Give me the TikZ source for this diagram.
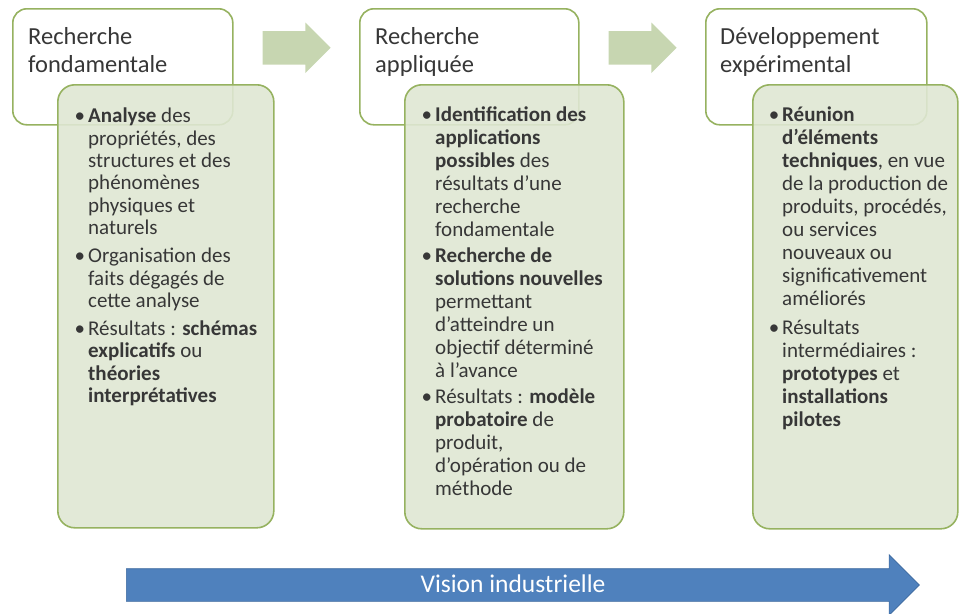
\documentclass[tikz,border=0pt]{standalone}
\usepackage{fontspec}
\setmainfont{Carlito}
\usetikzlibrary{calc,positioning,shapes.arrows}
\definecolor{vertbord}{RGB}{150,178,96}
\definecolor{vertfond}{RGB}{223,231,211}
\definecolor{vertfleche}{RGB}{199,214,177}
\definecolor{bleufleche}{RGB}{79,129,189}
\definecolor{bleubord}{RGB}{60,104,158}
\definecolor{texte}{RGB}{55,55,55}
\newcommand\puce{\llap{\textbullet\hspace{3pt}}}
\tikzset{
  titrebox/.style={draw=vertbord, line width=1.6pt, fill=white, rounded corners=14pt, anchor=north west, inner sep=0pt},
  corpsbox/.style={draw=vertbord, line width=1.6pt, fill=vertfond, fill opacity=0.9, rounded corners=17pt, anchor=north west, inner sep=0pt},
  titre/.style={anchor=north west, inner sep=0pt, align=left, text=texte, font=\fontsize{24.5}{28}\selectfont},
  corps/.style={anchor=north west, inner sep=0pt, align=left, text=texte, font=\fontsize{21}{23}\selectfont},
  flechevert/.style={single arrow, fill=vertfleche, minimum height=68pt, text height=16.5pt, text depth=16.5pt, text width=0pt, single arrow head extend=8.5pt, single arrow tip angle=90, inner sep=0pt},
  flechebleu/.style={single arrow, draw=bleubord, line width=0.6pt, fill=bleufleche, minimum height=793pt, text height=16pt, text depth=16pt, text width=0pt, single arrow head extend=14pt, single arrow tip angle=90, inner sep=0pt, anchor=west}
}
\begin{document}
\begin{tikzpicture}[x=1pt,y=-1pt]
\useasboundingbox (0,0) rectangle (960,613);

% cadres de titre
\node[titrebox, minimum width=220pt, minimum height=116pt] (rf) at (12,8) {};
\node[titrebox, minimum width=219pt, minimum height=116pt] (ra) at (359,8) {};
\node[titrebox, minimum width=221pt, minimum height=116pt] (de) at (705,8) {};

\node[titre] (trf) at (28,27) {Recherche\\fondamentale};
\node[titre] (tra) at (375,27) {Recherche\\appliquée};
\node[titre] (tde) at (720,27) {Développement\\expérimental};

% cadres verts
\node[corpsbox, minimum width=216pt, minimum height=443pt] (cf) at (57,84) {};
\node[corpsbox, minimum width=219pt, minimum height=444pt] (ca) at (404,84) {};
\node[corpsbox, minimum width=205pt, minimum height=444pt] (cd) at (752,84) {};

\node[corps, font=\fontsize{21}{22.3}\selectfont] (tcf) at (88,108) {%
\puce\textbf{Analyse} des\\ propriétés, des\\ structures et des\\ phénomènes\\ physiques et\\ naturels\\[6pt]
\puce Organisation des\\ faits dégagés de\\ cette analyse\\[6pt]
\puce Résultats : \textbf{schémas}\\ \textbf{explicatifs} ou\\ \textbf{théories}\\ \textbf{interprétatives}};

\node[corps] (tca) at (435,107) {%
\puce\textbf{Identification des}\\ \textbf{applications}\\ \textbf{possibles} des\\ résultats d'une\\ recherche\\ fondamentale\\[3pt]
\puce\textbf{Recherche de}\\ \textbf{solutions nouvelles}\\ permettant\\ d'atteindre un\\ objectif déterminé\\ à l'avance\\[3pt]
\puce Résultats : \textbf{modèle}\\ \textbf{probatoire} de\\ produit,\\ d'opération ou de\\ méthode};

\node[corps] (tcd) at (782,107) {%
\puce\textbf{Réunion}\\ \textbf{d'éléments}\\ \textbf{techniques}, en vue\\ de la production de\\ produits, procédés,\\ ou services\\ nouveaux ou\\ significativement\\ améliorés\\[6pt]
\puce Résultats\\ intermédiaires :\\ \textbf{prototypes} et\\ \textbf{installations}\\ \textbf{pilotes}};

% fleches entre les etapes
\node[flechevert] (f1) at ([shift={(-8pt,19pt)}]$(rf.east)!0.5!(ra.west)$) {};
\node[flechevert] (f2) at ([shift={(-8pt,19pt)}]$(ra.east)!0.5!(de.west)$) {};

\node[flechebleu] (vision) at (126,585) {};
\node[text=white, font=\fontsize{25.5}{28}\selectfont] (tvision) at (513,584) {Vision industrielle};

\end{tikzpicture}
\end{document}
